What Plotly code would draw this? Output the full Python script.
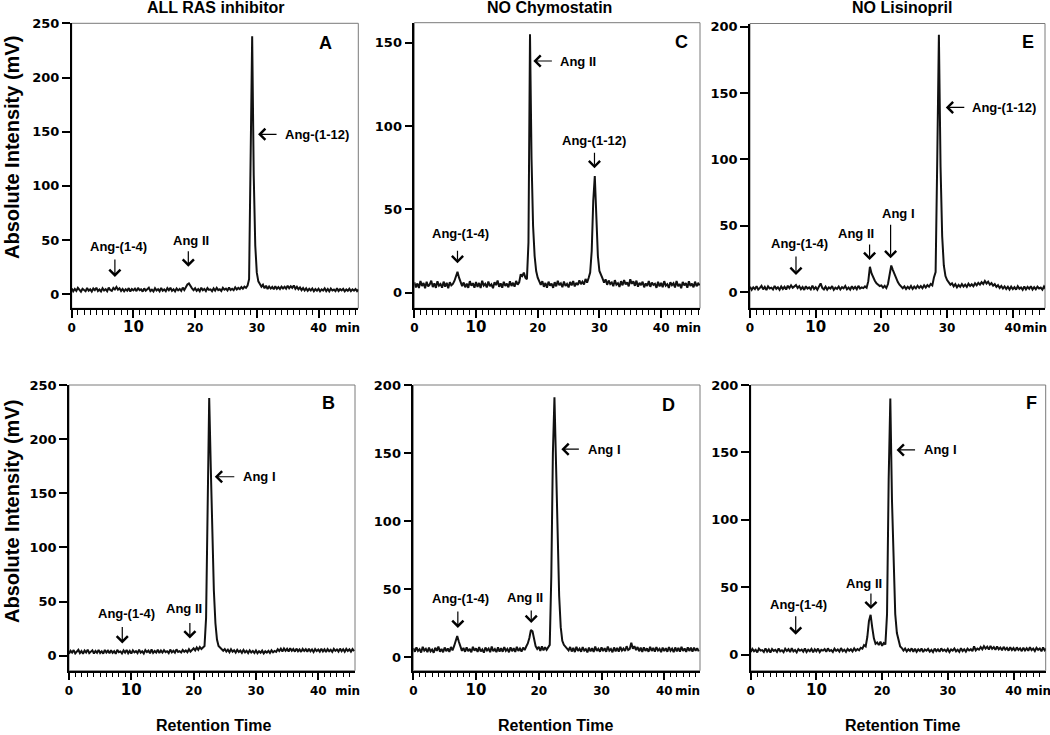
import plotly.graph_objects as go

# ---------------- data -----------------------------------------------------------------------
# Each chromatogram is sampled every 0.25 min starting at 0 min (intensity in mV).
SAMPLE_START = 0.0
SAMPLE_INTERVAL = 0.25

a_signal = [5.5, 2.8, 4.9, 3.1, 6.0, 3.6, 2.5, 5.2, 4.1, 2.9, 5.8, 3.3, 4.6, 2.6, 5.4, 3.9, 6.1, 3.0, 4.4, 2.7,
            5.6, 3.5, 4.8, 2.9, 6.2, 4.0, 3.2, 5.9, 4.5, 6.8, 4.2, 5.5, 3.1, 5.0, 2.8, 4.7, 3.4, 5.7, 2.6, 4.9,
            3.7, 5.3, 2.9, 6.0, 3.8, 4.6, 2.5, 5.5, 3.4, 4.9, 6.1, 3.0, 4.3, 2.7, 5.6, 3.6, 4.8, 2.8, 5.9, 3.3,
            4.5, 2.9, 5.7, 3.8, 6.0, 3.2, 4.7, 2.8, 5.4, 3.6, 4.9, 3.1, 6.2, 4.0, 6.5, 9.0, 10.0, 7.5, 5.5, 3.9,
            5.6, 3.2, 4.8, 2.9, 6.1, 3.7, 5.0, 3.0, 5.8, 4.1, 4.6, 2.8, 5.5, 3.5, 6.0, 3.9, 4.7, 3.1, 5.9, 4.2,
            5.2, 3.6, 6.3, 4.0, 5.1, 3.8, 6.4, 4.5, 5.9, 4.8, 6.7, 5.2, 7.0, 6.0, 8.0, 14, 120, 238, 110, 45,
            20, 12, 9.5, 7.0, 8.8, 5.5, 7.9, 4.9, 7.2, 5.3, 6.8, 4.6, 7.4, 5.0, 6.6, 4.8, 7.1, 5.4, 6.9, 5.2,
            8.0, 5.6, 7.5, 6.0, 8.2, 5.1, 6.9, 4.7, 6.4, 3.9, 5.8, 3.5, 5.5, 3.2, 5.1, 3.6, 5.4, 2.9, 4.8, 3.3,
            5.2, 2.8, 4.6, 3.4, 5.5, 3.0, 4.9, 2.7, 5.3, 3.5, 4.4, 2.9, 5.6, 3.1, 4.7, 3.6, 5.0, 2.8, 4.5, 3.2,
            5.1, 3.0, 4.6, 3.4, 4.9, 2.9, 4.4]

b_signal = [1.8, 4.6, 2.9, 5.2, 2.2, 3.9, 5.5, 2.5, 4.3, 1.9, 4.8, 3.1, 5.6, 2.4, 3.7, 5.0, 2.1, 4.4, 2.8, 5.3,
            2.6, 4.1, 1.9, 5.4, 3.0, 4.6, 2.3, 5.1, 2.7, 4.2, 1.8, 5.5, 3.3, 4.0, 2.2, 4.9, 2.9, 5.3, 2.4, 4.5,
            2.0, 5.0, 3.2, 4.3, 2.5, 5.6, 2.8, 4.1, 2.1, 5.2, 3.4, 4.7, 2.3, 5.8, 2.7, 4.4, 3.0, 5.5, 2.6, 4.8,
            2.9, 5.1, 3.3, 4.2, 2.4, 5.7, 3.1, 4.6, 2.8, 5.9, 3.5, 4.3, 3.0, 5.4, 3.6, 4.9, 3.2, 6.0, 3.8, 5.2,
            6.8, 4.9, 7.6, 5.5, 8.0, 6.2, 7.4, 9.0, 35, 150, 238, 175, 110, 60, 30, 15, 9.0, 7.5, 6.8, 4.6,
            6.2, 3.9, 5.6, 3.3, 6.0, 3.7, 5.1, 2.9, 5.5, 3.4, 4.8, 2.7, 5.3, 3.1, 4.6, 2.5, 5.0, 3.0, 4.4, 2.6,
            4.9, 2.4, 4.2, 2.8, 4.7, 2.2, 4.1, 2.9, 4.5, 2.6, 5.0, 3.2, 4.4, 3.6, 6.1, 4.3, 6.5, 4.0, 6.8, 4.6,
            6.4, 3.9, 6.9, 4.5, 6.2, 3.8, 6.6, 4.2, 5.9, 3.6, 6.3, 4.4, 6.0, 3.7, 6.5, 4.1, 5.8, 3.5, 6.2, 4.3,
            5.7, 3.8, 6.4, 4.0, 5.9, 3.4, 6.1, 4.2, 5.6, 3.6, 6.3, 4.5, 5.8, 3.9, 6.6, 4.1, 6.0, 3.7, 6.4, 4.4,
            5.9, 3.8, 6.2, 4.3]

c_signal = [6.2, 3.1, 5.5, 2.8, 7.0, 4.0, 5.8, 2.6, 6.5, 3.7, 4.9, 7.2, 3.3, 5.6, 2.9, 6.8, 4.2, 5.2, 3.0, 6.6,
            3.6, 5.9, 2.7, 6.3, 4.4, 5.2, 7.0, 10.0, 12.5, 9.0, 6.0, 3.9, 6.1, 3.2, 5.4, 2.9, 6.9, 4.1, 5.7, 3.0,
            6.4, 3.4, 5.8, 2.8, 7.1, 4.3, 5.3, 3.1, 6.7, 3.9, 5.0, 2.7, 6.2, 4.5, 7.3, 3.5, 5.6, 3.0, 6.5, 4.1,
            5.4, 3.2, 6.8, 4.0, 5.9, 3.6, 7.0, 4.8, 6.2, 11.0, 10.0, 12.0, 9.0, 8.0, 30, 155, 80, 40, 22, 13,
            9.0, 7.0, 4.6, 6.9, 3.5, 5.8, 3.0, 6.6, 4.2, 5.4, 2.9, 6.3, 3.8, 7.1, 4.5, 5.6, 3.3, 6.7, 4.0, 5.2,
            3.1, 6.4, 4.3, 7.0, 3.7, 5.9, 4.6, 7.4, 5.1, 6.6, 4.9, 8.2, 6.0, 8.8, 12, 25, 55, 70, 40, 22,
            13, 10, 8.5, 6.0, 8.0, 4.7, 7.3, 5.2, 6.1, 3.9, 7.5, 4.8, 5.7, 3.4, 6.9, 4.4, 7.6, 5.0, 6.2, 3.8,
            8.0, 5.3, 6.8, 4.1, 7.2, 3.6, 5.9, 4.5, 6.6, 3.2, 5.5, 4.0, 7.0, 3.5, 6.1, 4.7, 5.3, 2.9, 6.5, 3.8,
            5.8, 3.3, 6.9, 4.2, 5.1, 2.8, 6.3, 4.5, 5.6, 3.1, 7.0, 3.9, 5.2, 2.7, 6.4, 4.3, 5.7, 3.0, 6.8, 4.1,
            5.4, 3.2, 6.6, 3.9, 5.5, 4.4]

d_signal = [6.6, 3.9, 7.2, 4.5, 5.8, 3.4, 7.5, 4.8, 6.1, 3.7, 7.0, 4.2, 5.5, 3.2, 6.9, 4.6, 7.8, 4.0, 5.9, 3.6,
            7.1, 4.4, 6.3, 3.8, 7.4, 5.0, 8.0, 12.0, 15.5, 11.5, 7.5, 4.6, 6.7, 3.9, 7.2, 4.3, 6.0, 3.5, 7.6, 4.7,
            6.4, 3.8, 7.3, 4.1, 5.7, 3.3, 7.0, 4.9, 6.2, 3.6, 7.7, 4.4, 5.9, 3.7, 7.1, 4.0, 6.5, 3.9, 7.4, 4.6,
            6.0, 3.6, 7.2, 4.3, 6.6, 3.8, 7.5, 4.5, 6.3, 4.1, 7.0, 5.2, 7.8, 10.0, 14.0, 20.0, 19.0, 12.0, 8.0, 6.0,
            7.5, 4.6, 7.9, 5.0, 7.2, 5.3, 7.6, 9.0, 60, 150, 191, 145, 85, 45, 22, 12, 9.0, 7.6, 6.2, 4.9,
            7.4, 4.1, 6.8, 3.7, 7.6, 4.5, 6.2, 3.9, 7.3, 4.8, 5.9, 3.5, 7.0, 4.2, 6.5, 3.8, 7.7, 4.6, 6.1, 4.0,
            7.2, 4.4, 6.6, 3.9, 7.8, 4.7, 6.0, 3.6, 7.1, 4.3, 6.8, 4.0, 7.5, 4.8, 6.3, 4.5, 8.0, 5.2, 6.0, 10.5,
            6.2, 8.0, 5.1, 7.4, 4.3, 6.9, 3.8, 7.2, 4.6, 6.4, 3.9, 7.6, 4.5, 6.7, 4.0, 7.3, 4.8, 6.1, 3.7, 7.0,
            4.4, 6.6, 3.9, 7.4, 4.7, 6.2, 3.6, 7.1, 4.3, 6.8, 4.0, 7.5, 4.6, 6.3, 3.8, 7.2, 4.5, 6.9, 4.1, 7.0,
            4.6, 6.5, 4.2]

e_signal = [4.0, 1.6, 3.5, 2.2, 4.4, 1.8, 3.1, 4.6, 2.0, 3.8, 1.5, 4.2, 2.7, 3.3, 1.9, 4.5, 2.4, 3.6, 1.7, 4.1,
            2.3, 3.9, 1.8, 4.7, 2.9, 5.0, 3.2, 4.6, 5.2, 3.0, 4.4, 2.1, 3.7, 1.6, 4.3, 2.5, 3.4, 1.9, 4.8, 2.2,
            3.6, 1.7, 4.2, 6.5, 3.1, 2.0, 4.0, 1.8, 3.5, 2.6, 4.4, 1.6, 3.2, 2.3, 4.1, 1.9, 3.7, 2.8, 4.5, 2.0,
            3.4, 1.8, 4.3, 2.4, 3.8, 2.1, 4.6, 2.6, 3.5, 2.9, 4.2, 3.2, 8.0, 19.0, 14.0, 11.0, 8.5, 6.5, 5.5, 4.5,
            5.0, 3.2, 4.6, 3.0, 6.0, 15.0, 20.0, 16.5, 13.0, 10.0, 7.5, 5.5, 4.5, 2.8, 4.2, 2.2, 3.9, 2.6, 4.5, 2.3,
            4.1, 2.7, 4.7, 3.0, 4.4, 2.9, 5.0, 3.4, 5.2, 4.0, 6.0, 5.0, 11.0, 15.0, 100, 194, 95, 42, 20, 12,
            9.0, 7.0, 5.5, 6.6, 4.2, 5.9, 3.6, 5.4, 3.9, 6.0, 4.1, 5.5, 3.8, 6.2, 4.5, 5.8, 4.3, 6.6, 5.0, 6.9,
            5.6, 7.4, 6.0, 8.3, 6.4, 7.8, 5.5, 6.7, 4.8, 5.9, 3.8, 5.1, 3.0, 4.6, 2.6, 4.2, 2.3, 3.9, 1.9, 4.0,
            2.2, 3.7, 1.8, 4.3, 2.5, 3.5, 1.7, 4.1, 2.0, 3.8, 2.4, 4.4, 1.9, 3.6, 2.1, 4.0, 2.6, 3.3, 1.8, 4.2,
            2.4]

f_signal = [1.8, 4.2, 2.5, 3.6, 1.6, 4.4, 2.9, 3.3, 1.9, 4.6, 2.2, 3.8, 1.5, 4.1, 2.7, 3.5, 2.0, 4.5, 2.4, 3.2,
            1.7, 4.3, 2.6, 3.9, 1.8, 4.7, 2.3, 3.4, 1.6, 4.0, 2.8, 3.7, 2.1, 4.5, 1.9, 3.6, 2.5, 4.2, 1.7, 3.9,
            2.4, 4.4, 1.8, 3.5, 2.9, 4.1, 2.0, 4.6, 2.6, 3.3, 1.9, 4.3, 2.7, 3.8, 2.2, 4.8, 2.5, 3.6, 2.0, 4.2,
            2.8, 3.9, 2.3, 4.6, 2.9, 4.1, 3.2, 5.0, 4.4, 7.0, 6.0, 13.0, 25.0, 29.5, 20.0, 12.0, 8.0, 9.0, 7.0, 9.5,
            6.5, 8.5, 7.5, 30, 130, 190, 115, 60, 30, 16, 9.5, 6.0, 4.8, 2.9, 4.4, 2.3, 3.9, 2.7, 4.6, 2.1,
            4.3, 2.0, 3.8, 2.6, 4.5, 1.9, 3.7, 2.8, 4.2, 2.2, 3.5, 1.8, 4.4, 2.5, 3.9, 2.1, 4.6, 2.7, 3.6, 2.3,
            4.1, 1.9, 3.8, 2.9, 4.5, 2.4, 3.6, 2.0, 4.7, 2.6, 3.9, 2.2, 4.3, 3.0, 4.0, 2.5, 6.0, 3.1, 4.4, 3.6,
            5.6, 3.9, 6.2, 4.4, 5.8, 3.7, 6.4, 4.2, 5.5, 3.5, 6.0, 3.9, 5.2, 3.2, 5.7, 3.6, 4.9, 2.9, 5.4, 3.3,
            4.8, 2.7, 5.3, 3.4, 4.6, 2.5, 5.1, 3.0, 4.7, 2.8, 5.5, 3.2, 4.4, 2.6, 5.0, 3.5, 4.5, 2.4, 5.2, 3.1,
            4.3]

column_titles = ["ALL RAS inhibitor", "NO Chymostatin", "NO Lisinopril"]
y_label = "Absolute Intensity (mV)"
x_label = "Retention Time"
x_unit = "min"
x_tick_values = [0, 10, 20, 30, 40]
x_tick_labels = ["0", "10", "20", "30", "40"]
y_ticks_a = [0, 50, 100, 150, 200, 250]
y_ticks_b = [0, 50, 100, 150, 200, 250]
y_ticks_c = [0, 50, 100, 150]
y_ticks_d = [0, 50, 100, 150, 200]
y_ticks_e = [0, 50, 100, 150, 200]
y_ticks_f = [0, 50, 100, 150, 200]

# peak labels: (text, tip time, tip intensity, arrow direction, arrow length px, label time, label intensity)
labels_a = [("Ang-(1-4)", 7.0, 16, "down", 19, 7.55, 44), ("Ang II", 18.9, 25.5, "down", 17, 19.3, 50),
            ("Ang-(1-12)", 30.2, 147.6, "left", 20, 34.2, 147.6)]
labels_b = [("Ang-(1-4)", 8.55, 11.4, "down", 18, 9.15, 39), ("Ang II", 19.4, 16, "down", 17, 18.5, 44),
            ("Ang I", 23.4, 165.3, "left", 21, 27.6, 165.3)]
labels_c = [("Ang-(1-4)", 7.0, 17.6, "down", 14, 7.5, 35.6), ("Ang II", 19.3, 139, "left", 20, 23.3, 139),
            ("Ang-(1-12)", 29.2, 74.6, "down", 17, 29.2, 91.6)]
labels_d = [("Ang-(1-4)", 7.1, 21.4, "down", 18, 7.6, 43.4), ("Ang II", 18.8, 25, "down", 14, 17.8, 44.1),
            ("Ang I", 23.6, 152.8, "left", 19, 27.5, 152.8)]
labels_e = [("Ang-(1-4)", 7.0, 12.8, "down", 20, 7.5, 36.7), ("Ang II", 18.2, 24.1, "down", 17, 16.1, 44.2),
            ("Ang I", 21.4, 25.4, "down", 35, 22.6, 59.3),
            ("Ang-(1-12)", 29.8, 139.2, "left", 20, 33.5, 139.2)]
labels_f = [("Ang-(1-4)", 6.85, 14.7, "down", 20, 7.35, 36.9), ("Ang II", 18.3, 33.7, "down", 17, 17.3, 53),
            ("Ang I", 22.2, 151.8, "left", 20, 26.0, 151.8)]

W, H = 1050, 735
BOLD = "Liberation Sans, Arial, sans-serif"
TICKF = "DejaVu Sans, sans-serif"

panels = [
    ("A", a_signal, y_ticks_a, labels_a, (71.7, 358.3, 23.3, 308.3), [0, 46.45], [-12.9, 250], (41.2, 231.8), 0.964),
    ("C", c_signal, y_ticks_c, labels_c, (414.3, 700, 22.7, 308.3), [0, 46.3], [-9.4, 162], (43.3, 150.4), 0.958),
    ("E", e_signal, y_ticks_e, labels_e, (750, 1045, 23.5, 308.3), [0, 44.9], [-12.3, 202.5], (42.3, 188.4), 0.966),
    ("B", b_signal, y_ticks_b, labels_b, (69, 355, 385, 670.7), [0, 45.9], [-13.8, 250], (41.6, 233.6), 0.975),
    ("D", d_signal, y_ticks_d, labels_d, (413.3, 700, 385, 670.7), [0, 45.7], [-10, 200], (40.6, 185.3), 0.955),
    ("F", f_signal, y_ticks_f, labels_f, (750.7, 1045.7, 385, 670.7), [0, 44.9], [-12, 200], (42.8, 186.6), 0.975),
]

fig = go.Figure()
layout = dict(width=W, height=H, margin=dict(l=0, r=0, t=0, b=0, pad=0), paper_bgcolor="white",
              plot_bgcolor="white", showlegend=False, annotations=[], shapes=[])

xt_text = [t if t != "10" else '<span style="font-size:15px">10</span>' for t in x_tick_labels]

for i, (letter, sig, yt, labs, box, xr, yr, lpos, minpos) in enumerate(panels, start=1):
    sfx = "" if i == 1 else str(i)
    xa, ya = "x" + sfx, "y" + sfx
    xk, yk = "xaxis" + sfx, "yaxis" + sfx
    l, r, t, b = box
    fig.add_trace(go.Scatter(y=sig, x0=SAMPLE_START, dx=SAMPLE_INTERVAL, mode="lines",
                             line=dict(color="#111111", width=2.0), xaxis=xa, yaxis=ya, hoverinfo="skip"))
    layout[xk] = dict(domain=[l / W, r / W], anchor=ya, range=xr, showgrid=False, zeroline=False,
                      automargin=False,
                      showline=True, linecolor="black", linewidth=1.5, ticks="outside", ticklen=8,
                      tickwidth=1.5, tickcolor="black", tickvals=x_tick_values, ticktext=xt_text,
                      tickfont=dict(family=TICKF, size=12, color="black", weight="bold"),
                      minor=dict(dtick=1, ticks="outside", ticklen=5, tickwidth=1, tickcolor="black"))
    layout[yk] = dict(domain=[1 - b / H, 1 - t / H], anchor=xa, range=yr, showgrid=False, zeroline=False,
                      automargin=False,
                      showline=True, linecolor="black", linewidth=1.5, ticks="outside", ticklen=8,
                      tickwidth=2, tickcolor="black", tickvals=yt,
                      tickfont=dict(family=TICKF, size=13, color="black", weight="bold"))
    layout["shapes"].append(dict(type="rect", xref=f"{xa} domain", yref=f"{ya} domain", x0=0, x1=1, y0=0, y1=1,
                                 line=dict(color="#7a7a7a", width=1), layer="below"))
    layout["annotations"].append(dict(x=lpos[0], y=lpos[1], xref=xa, yref=ya, text=letter, showarrow=False,
                                      xanchor="center", yanchor="middle",
                                      font=dict(family=BOLD, size=18, color="black", weight="bold")))
    layout["annotations"].append(dict(x=minpos, y=0, xref=f"{xa} domain", yref=f"{ya} domain", text=x_unit,
                                      showarrow=False, xanchor="center", yanchor="top", yshift=-11,
                                      font=dict(family=TICKF, size=12, color="black", weight="bold")))
    for (txt, px, py, direction, length, tx, ty) in labs:
        arrow = dict(x=px, y=py, xref=xa, yref=ya, text="", showarrow=True, arrowhead=4, arrowsize=1.8,
                     arrowwidth=1.2, arrowcolor="black", axref="pixel", ayref="pixel")
        if direction == "down":
            arrow.update(ax=0, ay=-length)
        else:
            arrow.update(ax=length, ay=0)
        layout["annotations"].append(arrow)
        layout["annotations"].append(dict(x=tx, y=ty, xref=xa, yref=ya, text=txt, showarrow=False,
                                          xanchor="center" if direction == "down" else "left",
                                          yanchor="middle",
                                          font=dict(family=BOLD, size=13, color="black", weight="bold")))

for cx, ttl, rx in zip([215, 549, 901.5], column_titles, [213, 555, 902]):
    layout["annotations"].append(dict(x=cx / W, y=1 - 8 / H, xref="paper", yref="paper", text=ttl,
                                      showarrow=False, xanchor="center", yanchor="middle",
                                      font=dict(family=BOLD, size=16, color="black", weight="bold")))
    layout["annotations"].append(dict(x=rx / W, y=1 - 725 / H, xref="paper", yref="paper", text=x_label,
                                      showarrow=False, xanchor="center", yanchor="middle",
                                      font=dict(family=BOLD, size=16, color="black", weight="bold")))
for cy in [148, 512]:
    layout["annotations"].append(dict(x=12 / W, y=1 - cy / H, xref="paper", yref="paper", text=y_label,
                                      showarrow=False, textangle=-90, xanchor="center", yanchor="middle",
                                      font=dict(family=BOLD, size=20, color="black", weight="bold")))

fig.update_layout(**layout)
fig.write_html("out.html", config={"displayModeBar": False},
               post_script="document.body.style.margin='0px';")
